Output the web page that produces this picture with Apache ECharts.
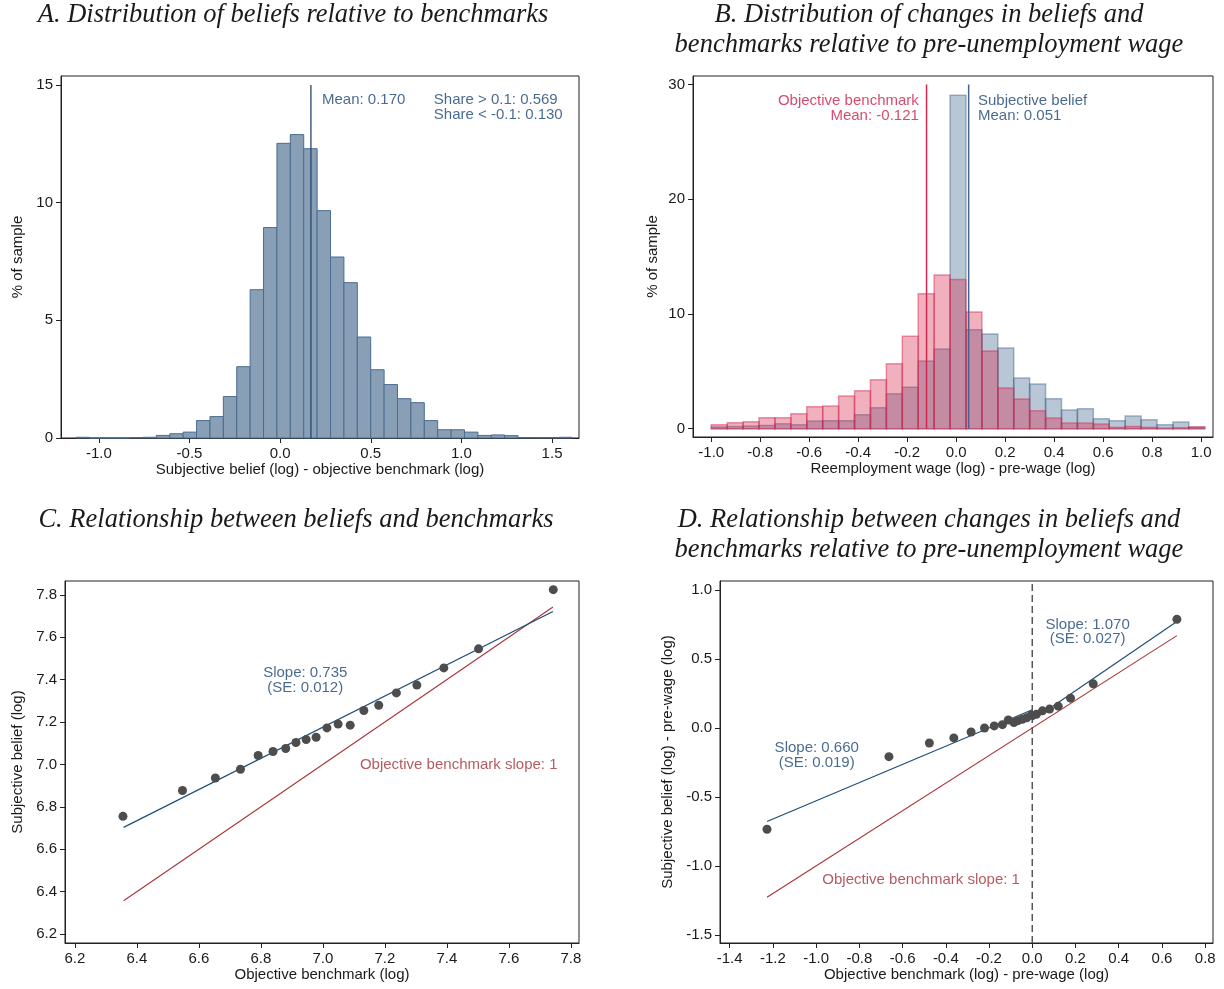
<!DOCTYPE html>
<html><head><meta charset="utf-8">
<script src="https://cdn.jsdelivr.net/npm/echarts@6/dist/echarts.min.js"></script>
<style>html,body{margin:0;padding:0;background:#fff}#c{width:1224px;height:989px}</style>
</head><body><div id="c"></div>
<script>
// ---------------- Panel A: histogram of belief - benchmark ----------------
const binStartA = -1.126;
const binWidthA = 0.0739;
const pctA = [0.03, 0, 0, 0, 0.02, 0.03, 0.11, 0.18, 0.25, 0.74, 0.91, 1.76, 3.03, 6.30, 8.94,
  12.52, 12.89, 12.29, 9.66, 7.69, 6.60, 4.29, 2.90, 2.27, 1.67, 1.50, 0.74, 0.35, 0.35, 0.25,
  0.11, 0.13, 0.10, 0.02, 0.02, 0.02, 0.03];
const meanA = 0.170;
const meanTopA = 15;
const ticksAx = [-1.0, -0.5, 0, 0.5, 1.0, 1.5];
const ticksAy = [0, 5, 10, 15];

// ---------------- Panel B: histograms of changes ----------------
const binStartB = -1.0;
const binWidthB = 0.065;
const pctBsubj = [0.15, 0.20, 0.23, 0.29, 0.43, 0.35, 0.67, 0.70, 0.70, 1.22, 1.83, 3.04, 3.62, 5.91, 6.96,
  29.07, 8.63, 8.26, 7.03, 4.42, 3.90, 2.62, 1.63, 1.74, 0.87, 0.70, 1.10, 0.78, 0.35, 0.58, 0.15];
const pctBobj = [0.35, 0.52, 0.61, 0.96, 0.96, 1.31, 1.92, 1.98, 2.85, 3.31, 4.27, 5.67, 8.07, 11.77, 13.40,
  13.00, 10.17, 6.77, 3.55, 2.59, 1.57, 0.93, 0.49, 0.49, 0.41, 0.12, 0.20, 0.12, 0.06, 0.09, 0.15];
const meanBobj = -0.121;
const meanBsubj = 0.051;
const meanTopB = 30;
const ticksBx = [-1.0, -0.8, -0.6, -0.4, -0.2, 0, 0.2, 0.4, 0.6, 0.8, 1.0];
const ticksBy = [0, 10, 20, 30];

// ---------------- Panel C: binscatter beliefs vs benchmarks ----------------
const benchC = [6.355, 6.547, 6.653, 6.734, 6.791, 6.839, 6.880, 6.913, 6.946, 6.978,
  7.013, 7.049, 7.088, 7.132, 7.180, 7.237, 7.303, 7.390, 7.502, 7.743];
const beliefC = [6.755, 6.877, 6.936, 6.977, 7.042, 7.061, 7.075, 7.103, 7.117, 7.128,
  7.172, 7.190, 7.185, 7.254, 7.279, 7.337, 7.374, 7.455, 7.545, 7.824];
const fitC = [[6.357, 6.703], [7.742, 7.721]];
const diagC = [[6.357, 6.357], [7.742, 7.742]];
const ticksCx = [6.2, 6.4, 6.6, 6.8, 7.0, 7.2, 7.4, 7.6, 7.8];
const ticksCy = [6.2, 6.4, 6.6, 6.8, 7.0, 7.2, 7.4, 7.6, 7.8];

// ---------------- Panel D: binscatter of changes ----------------
const benchD = [-1.227, -0.663, -0.476, -0.363, -0.283, -0.221, -0.176, -0.138, -0.111, -0.085,
  -0.066, -0.046, -0.026, -0.005, 0.019, 0.047, 0.080, 0.120, 0.177, 0.282, 0.669];
const beliefD = [-0.734, -0.208, -0.109, -0.072, -0.029, 0.000, 0.015, 0.024, 0.058, 0.040,
  0.053, 0.063, 0.074, 0.092, 0.099, 0.124, 0.137, 0.158, 0.216, 0.320, 0.787];
const fitDleft = [[-1.227, -0.678], [0, 0.132]];
const fitDright = [[0, 0.056], [0.669, 0.772]];
const diagD = [[-1.227, -1.227], [0.669, 0.669]];
const zeroLineD = [[0, -1.558], [0, 1.065]];
const ticksDx = [-1.4, -1.2, -1.0, -0.8, -0.6, -0.4, -0.2, 0, 0.2, 0.4, 0.6, 0.8];
const ticksDy = [-1.5, -1.0, -0.5, 0, 0.5, 1.0];

// ---------------- styling ----------------
const SANS = '"Liberation Sans", Arial, sans-serif';
const SERIF = '"Liberation Serif", "DejaVu Serif", serif';
const FS = 15;
const NAVY_TXT = '#1b4574';
const RED_TXT = '#a3323a';

const chart = echarts.init(document.getElementById('c'), null, {renderer: 'canvas'});

const grids = [
  {left: 61, top: 76, width: 518, height: 362},
  {left: 693, top: 76, width: 520, height: 361},
  {left: 65, top: 581, width: 514, height: 362},
  {left: 720, top: 581, width: 493, height: 362}
].map(g => Object.assign({show: true, borderColor: '#222', borderWidth: 1, backgroundColor: '#fff'}, g));

function fmt1(v) { return (Math.abs(v) < 1e-9 ? 0 : v).toFixed(1); }
function fmt0(v) { return String(Math.round(v)); }

function axis(gi, min, max, ticks, f, name, gap) {
  return {
    gridIndex: gi, type: 'value', min: min, max: max,
    axisLine: {show: true, onZero: false, lineStyle: {color: '#222', width: 1}},
    splitLine: {show: false},
    axisTick: {show: true, inside: false, length: 5, customValues: ticks, lineStyle: {color: '#222'}},
    axisLabel: {customValues: ticks, formatter: f, color: '#1a1a1a', fontSize: FS, fontFamily: SANS, margin: 8},
    name: name, nameLocation: 'middle', nameGap: gap,
    nameTextStyle: {color: '#1a1a1a', fontSize: FS, fontFamily: SANS}
  };
}

const xAxes = [
  axis(0, -1.2086, 1.6487, ticksAx, fmt1, 'Subjective belief (log) - objective benchmark (log)', 24),
  axis(1, -1.0745, 1.0486, ticksBx, fmt1, 'Reemployment wage (log) - pre-wage (log)', 24),
  axis(2, 6.168, 7.826, ticksCx, fmt1, 'Objective benchmark (log)', 24),
  axis(3, -1.4445, 0.836, ticksDx, fmt1, 'Objective benchmark (log) - pre-wage (log)', 24)
];
const yAxes = [
  axis(0, 0, 15.38, ticksAy, fmt0, '% of sample', 36),
  axis(1, -0.72, 30.75, ticksBy, fmt0, '% of sample', 33),
  axis(2, 6.1575, 7.865, ticksCy, fmt1, 'Subjective belief (log)', 40),
  axis(3, -1.558, 1.065, ticksDy, fmt1, 'Subjective belief (log) - pre-wage (log)', 45)
];

function histData(start, width, vals) {
  return vals.map((v, i) => [start + i * width, start + (i + 1) * width, v]);
}
function histSeries(gi, data, fill, stroke, lw) {
  return {
    type: 'custom', xAxisIndex: gi, yAxisIndex: gi, silent: true,
    data: data, encode: {x: [0, 1], y: 2},
    renderItem: function (params, api) {
      const p0 = api.coord([api.value(0), api.value(2)]);
      const p1 = api.coord([api.value(1), 0]);
      return {type: 'rect', shape: {x: p0[0], y: p0[1], width: p1[0] - p0[0], height: p1[1] - p0[1]},
        style: {fill: fill, stroke: stroke, lineWidth: lw}};
    }
  };
}
function lineSeries(gi, pts, color, width, type, z) {
  return {type: 'line', xAxisIndex: gi, yAxisIndex: gi, data: pts, symbol: 'none', silent: true,
    lineStyle: {color: color, width: width, type: type || 'solid'}, z: z || 3, animation: false};
}
function textSeries(gi, x, y, text, align, color) {
  const pos = align === 'left' ? 'right' : (align === 'right' ? 'left' : 'inside');
  return {type: 'scatter', xAxisIndex: gi, yAxisIndex: gi, data: [[x, y]], symbolSize: 0, silent: true, z: 10,
    label: {show: true, position: pos, distance: 0, formatter: text, color: color,
      fontSize: FS, fontFamily: SANS}};
}
function scatterSeries(gi, xs, ys) {
  return {type: 'scatter', xAxisIndex: gi, yAxisIndex: gi, data: xs.map((x, i) => [x, ys[i]]),
    symbol: 'circle', symbolSize: 9, itemStyle: {color: '#4d4d4d', opacity: 1}, silent: true, z: 5};
}

const series = [
  // A
  histSeries(0, histData(binStartA, binWidthA, pctA), '#889fb6', '#4a6c90', 1),
  lineSeries(0, [[meanA, 0], [meanA, meanTopA]], '#24466c', 1.3),
  textSeries(0, 0.231, 14.36, 'Mean: 0.170', 'left', NAVY_TXT),
  textSeries(0, 0.848, 14.36, 'Share > 0.1: 0.569', 'left', NAVY_TXT),
  textSeries(0, 0.848, 13.72, 'Share < -0.1: 0.130', 'left', NAVY_TXT),
  // B
  histSeries(1, histData(binStartB, binWidthB, pctBsubj), 'rgba(62,100,140,0.37)', 'rgba(62,100,140,0.45)', 1.5),
  histSeries(1, histData(binStartB, binWidthB, pctBobj), 'rgba(214,40,80,0.37)', 'rgba(214,40,80,0.47)', 1.5),
  lineSeries(1, [[meanBobj, 0], [meanBobj, meanTopB]], '#d6264f', 1.5),
  lineSeries(1, [[meanBsubj, 0], [meanBsubj, meanTopB]], '#41648c', 1.5),
  textSeries(1, -0.1525, 28.55, 'Objective benchmark', 'right', '#cc1d47'),
  textSeries(1, -0.1525, 27.27, 'Mean: -0.121', 'right', '#cc1d47'),
  textSeries(1, 0.089, 28.55, 'Subjective belief', 'left', NAVY_TXT),
  textSeries(1, 0.089, 27.27, 'Mean: 0.051', 'left', NAVY_TXT),
  // C
  lineSeries(2, diagC, '#a83338', 1.1),
  lineSeries(2, fitC, '#1f4e7a', 1.2),
  scatterSeries(2, benchC, beliefC),
  textSeries(2, 6.943, 7.433, 'Slope: 0.735', 'center', NAVY_TXT),
  textSeries(2, 6.943, 7.361, '(SE: 0.012)', 'center', NAVY_TXT),
  textSeries(2, 7.438, 6.998, 'Objective benchmark slope: 1', 'center', RED_TXT),
  // D
  lineSeries(3, zeroLineD, '#555555', 1.5, [7, 4], 2),
  lineSeries(3, diagD, '#a83338', 1.1),
  lineSeries(3, fitDleft, '#1f4e7a', 1.2),
  lineSeries(3, fitDright, '#1f4e7a', 1.2),
  scatterSeries(3, benchD, beliefD),
  textSeries(3, 0.256, 0.750, 'Slope: 1.070', 'center', NAVY_TXT),
  textSeries(3, 0.256, 0.649, '(SE: 0.027)', 'center', NAVY_TXT),
  textSeries(3, -0.997, -0.146, 'Slope: 0.660', 'center', NAVY_TXT),
  textSeries(3, -0.997, -0.255, '(SE: 0.019)', 'center', NAVY_TXT),
  textSeries(3, -0.514, -1.098, 'Objective benchmark slope: 1', 'center', RED_TXT)
];

function title(x, y, text) {
  return {type: 'text', x: x, y: y, silent: true,
    style: {text: text, fill: '#1a1a1a', fontFamily: SERIF, fontStyle: 'italic', fontSize: 26.5,
      align: 'center', verticalAlign: 'middle'}};
}
const graphics = [
  title(293, 15, 'A. Distribution of beliefs relative to benchmarks'),
  title(929, 15, 'B. Distribution of changes in beliefs and'),
  title(929, 45, 'benchmarks relative to pre-unemployment wage'),
  title(296, 520, 'C. Relationship between beliefs and benchmarks'),
  title(929, 520, 'D. Relationship between changes in beliefs and'),
  title(929, 550, 'benchmarks relative to pre-unemployment wage')
];

chart.setOption({
  animation: false,
  backgroundColor: '#fff',
  grid: grids,
  xAxis: xAxes,
  yAxis: yAxes,
  series: series,
  graphic: graphics
});
</script></body></html>
